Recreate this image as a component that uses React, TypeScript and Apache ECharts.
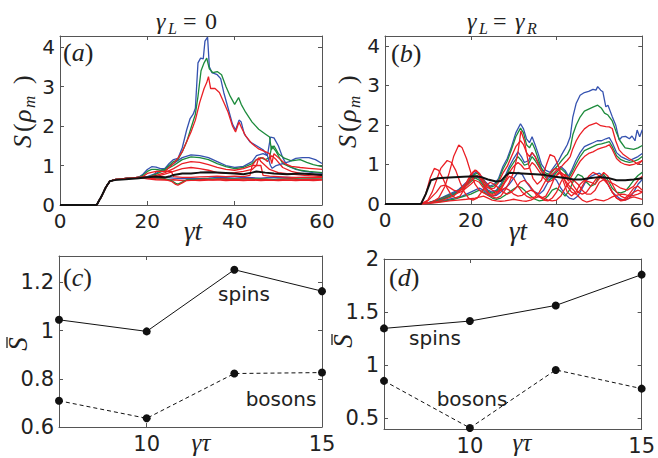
import React, { useEffect, useRef } from "react";
import * as echarts from "echarts";

type Pt = [number, number];

// ---------- panel (a): gamma_L = 0 ----------
const A_RISE: Pt[] = [[0,0],[8.4,0],[9.5,0.22],[10.5,0.45],[11.4,0.6],[12.5,0.64],[14,0.66],[16,0.68],[18,0.7]];
const A_BLUE_HIGH: Pt[] = [[19,0.78],[20,0.9],[21,0.97],[22,0.96],[23,0.92],[24,0.92],[25,1.05],[26,1.15],[27,1.18],[28,1.45],[29,1.9],[29.8,2.19],[30.5,2.3],[31,2.45],[31.6,3.6],[32.2,3.72],[32.8,3.7],[33.2,4.15],[33.8,4.25],[34.2,3.5],[34.8,3.35],[36,3.3],[36.8,3.2],[37.5,2.85],[38.5,2.45],[39.5,2.05],[40.2,1.9],[41,2.15],[41.5,2.1],[42.2,1.8],[43.5,1.6],[45,1.5],[46.5,1.4],[47.5,1.25],[48.2,1.0],[48.6,0.93],[49.5,1.0],[51,1.05],[52.5,1.1],[54,1.18],[55.5,1.2],[57,1.2],[58.5,1.15],[60,1.05]];
const A_GREEN_HIGH: Pt[] = [[19,0.75],[20,0.85],[21,0.9],[22,0.9],[23,0.88],[24,0.9],[25,1.0],[26,1.1],[27,1.15],[28,1.35],[29,1.6],[30,1.95],[31,2.3],[31.6,2.75],[32.3,3.4],[33,3.6],[33.6,3.72],[34.2,3.45],[35,3.35],[36,3.38],[37,3.3],[38,3.0],[39,2.75],[40,2.55],[40.9,2.72],[41.5,2.55],[42.5,2.35],[44,2.1],[45.5,1.92],[47,1.8],[48,1.72],[48.4,1.4],[49,1.5],[50,1.3],[51.5,1.18],[53,1.12],[55,1.15],[56.5,1.08],[58,1.02],[60,0.97]];
const A_RED_HIGH: Pt[] = [[19,0.72],[20,0.8],[22,0.85],[24,0.85],[25,0.95],[26,1.05],[27,1.18],[28,1.35],[29,1.6],[30,1.85],[31,2.15],[32,2.6],[33,2.95],[33.6,3.1],[34,3.25],[34.5,2.95],[35.5,2.95],[36.5,2.85],[37.5,2.6],[38.5,2.35],[39.5,2.0],[40.2,1.85],[41,2.1],[41.6,1.95],[42.5,1.75],[44,1.55],[45.5,1.42],[47,1.35],[48,1.3],[48.5,1.05],[49,1.3],[50,1.2],[51.5,1.05],[53,0.98],[55,0.95],[57,0.93],[60,0.9]];
const A_BLUE_MID: Pt[] = [[20,0.72],[22,0.8],[24,0.92],[26,1.05],[28,1.2],[30,1.27],[32,1.25],[34,1.2],[36,1.1],[38,1.0],[40,0.95],[42,0.98],[44,1.1],[45,1.25],[46.5,1.3],[47.5,1.25],[48.2,1.72],[49,1.7],[50,1.5],[51,1.2],[52,1.0],[54,0.9],[56,0.85],[58,0.82],[60,0.8]];
const A_GREEN_MID: Pt[] = [[20,0.7],[22,0.78],[24,0.88],[26,1.0],[28,1.15],[30,1.22],[32,1.2],[34,1.15],[36,1.05],[38,0.97],[40,0.92],[42,0.95],[44,1.05],[45,1.15],[46,1.2],[47,1.15],[48,1.2],[48.5,1.5],[49.5,1.35],[51,1.05],[53,0.95],[55,0.88],[57,0.85],[60,0.82]];
const A_RED_MID: Pt[] = [[20,0.7],[22,0.75],[24,0.82],[26,0.92],[28,1.05],[30,1.1],[32,1.08],[34,1.02],[36,0.95],[38,0.9],[40,0.88],[42,0.92],[44,1.0],[45,1.15],[46.5,1.2],[47.5,1.1],[48.5,1.25],[49.5,1.15],[51,0.95],[53,0.85],[55,0.8],[57,0.78],[60,0.75]];
const A_RED_MID2: Pt[] = [[20,0.7],[22,0.72],[24,0.78],[26,0.85],[28,0.92],[30,0.95],[32,0.92],[34,0.88],[36,0.82],[38,0.8],[40,0.82],[42,0.85],[44,0.9],[45,1.0],[45.5,1.2],[46,1.1],[47,1.0],[48,0.9],[50,0.82],[53,0.78],[56,0.75],[60,0.72]];
const A_RED_LOW1: Pt[] = [[20,0.68],[22,0.66],[24,0.65],[25.5,0.6],[26.5,0.52],[27,0.5],[28,0.56],[29,0.62],[31,0.63],[33,0.65],[35,0.64],[37,0.66],[39,0.64],[41,0.65],[43,0.66],[45,0.64],[47,0.65],[49,0.63],[51,0.65],[53,0.66],[55,0.64],[57,0.65],[60,0.65]];
const A_GREEN_LOW1: Pt[] = [[20,0.69],[22,0.68],[24,0.67],[25.5,0.62],[26.5,0.55],[27,0.53],[28,0.58],[29,0.64],[31,0.65],[33,0.66],[35,0.66],[37,0.67],[39,0.66],[41,0.66],[43,0.67],[45,0.66],[47,0.66],[49,0.65],[51,0.66],[53,0.67],[55,0.66],[57,0.66],[60,0.66]];
const A_RED_LOW2: Pt[] = [[20,0.66],[22,0.64],[24,0.63],[26,0.64],[28,0.62],[30,0.63],[32,0.62],[34,0.63],[36,0.64],[38,0.62],[40,0.63],[42,0.62],[44,0.63],[46,0.62],[48,0.63],[50,0.62],[52,0.63],[54,0.62],[56,0.63],[58,0.62],[60,0.63]];
const A_BLUE_LOW: Pt[] = [[20,0.7],[22,0.69],[24,0.7],[26,0.68],[28,0.67],[30,0.68],[32,0.67],[34,0.68],[36,0.7],[38,0.69],[40,0.68],[42,0.7],[44,0.69],[46,0.68],[48,0.7],[50,0.69],[52,0.7],[54,0.69],[56,0.7],[58,0.69],[60,0.7]];
const A_RED_LOW3: Pt[] = [[20,0.7],[21.5,0.72],[22,0.85],[24,0.86],[25.5,0.85],[26,0.72],[28,0.7],[30,0.7],[32,0.71],[34,0.72],[36,0.73],[38,0.72],[40,0.73],[42,0.72],[43.5,0.75],[44,1.0],[46,1.0],[46.5,0.75],[48,0.73],[50,0.72],[53,0.7],[56,0.7],[60,0.7]];
const A_BLACK: Pt[] = [[0,0],[8.4,0],[9.5,0.22],[10.5,0.45],[11.4,0.6],[12.5,0.63],[15,0.65],[18,0.68],[20,0.7],[22,0.72],[24,0.7],[25,0.72],[26,0.76],[28,0.8],[30,0.8],[32,0.82],[34,0.83],[36,0.82],[38,0.81],[40,0.8],[42,0.78],[44,0.82],[45,0.85],[47,0.82],[49,0.8],[52,0.78],[55,0.8],[58,0.78],[60,0.76]];

// ---------- panel (b): gamma_L = gamma_R ----------
const B_RED1: Pt[] = [[0,0],[8.4,0],[9.5,0.25],[10.5,0.65],[11.5,0.9],[12.5,0.85],[13.5,0.65],[14.5,0.4],[15.5,0.22],[16.5,0.15],[17.5,0.2],[18.5,0.38],[19.5,0.6],[20.5,0.8],[21.3,0.85],[22,0.75],[23,0.5],[24,0.3],[25,0.18],[26,0.15],[27,0.2],[28,0.35],[29,0.55],[30,0.8],[31,1.3],[31.7,1.85],[32.5,1.6],[33.5,1.0],[34.5,0.65],[35.5,0.5],[36.5,0.6],[37.5,0.95],[38.5,1.25],[39.5,1.2],[40.5,0.95],[41.5,0.6],[42.5,0.3],[43.5,0.2],[44.5,0.3],[45.5,0.5],[46.5,0.6],[48,0.55],[49,0.5],[50,0.65],[51,0.8],[52,0.7],[53,0.5],[54,0.3],[55,0.2],[56,0.15],[57,0.25],[58,0.4],[59,0.45],[60,0.35]];
const B_RED2: Pt[] = [[0,0],[8.4,0],[10,0.1],[11,0.3],[12,0.6],[13,0.9],[14.5,1.1],[15.5,1.05],[16.5,0.85],[17.5,0.55],[18.5,0.3],[19.5,0.15],[20.5,0.1],[21.5,0.15],[22.5,0.3],[23.5,0.45],[24.5,0.55],[25.5,0.5],[26.5,0.4],[27.5,0.3],[28.5,0.25],[29.5,0.3],[30.5,0.4],[31.5,0.55],[32.5,0.6],[33.5,0.5],[34.5,0.35],[35.5,0.2],[36.5,0.15],[37.5,0.2],[38.5,0.4],[39.5,0.65],[40.5,0.8],[41.5,0.7],[42.5,0.45],[43.5,0.3],[44.5,0.25],[45.5,0.35],[46.5,0.55],[47.5,0.7],[48.5,0.8],[49.5,0.75],[50.5,0.65],[51.5,0.6],[52.5,0.55],[53.5,0.5],[55,0.4],[56.5,0.35],[58,0.45],[59,0.6],[60,0.7]];
const B_RED3: Pt[] = [[0,0],[8.4,0],[11,0.05],[12.5,0.15],[14,0.45],[15,0.8],[16,1.2],[17.2,1.49],[18,1.42],[19,1.15],[20,0.8],[21,0.5],[22,0.35],[23,0.28],[24,0.22],[25,0.2],[26,0.25],[27,0.35],[28,0.55],[29,0.7],[30,0.65],[31,0.45],[32,0.3],[33,0.2],[34,0.15],[35,0.18],[36,0.3],[37,0.5],[38,0.7],[39,0.85],[40,0.9],[41,0.8],[42,0.6],[43,0.45],[44,0.35],[45,0.2],[46,0.1],[47,0.05],[48,0.08],[49,0.12],[50,0.1],[51,0.08],[52,0.12],[53,0.18],[54,0.22],[55,0.25],[56,0.24],[57,0.2],[58,0.22],[59,0.25],[60,0.3]];
const B_RED4: Pt[] = [[0,0],[8.4,0],[10,0.08],[12,0.3],[13,0.45],[14,0.48],[15,0.42],[16,0.35],[17,0.32],[18,0.4],[19,0.55],[20,0.75],[21,0.86],[22,0.78],[23,0.6],[24,0.45],[25,0.35],[26,0.3],[27,0.35],[28,0.4],[29,0.35],[30,0.25],[31,0.2],[32,0.22],[33,0.3],[34,0.35],[35,0.3],[36,0.2],[37,0.1],[38,0.08],[39,0.15],[40,0.3],[41,0.55],[42,0.75],[43,0.65],[44,0.45],[45,0.3],[46,0.25],[47,0.3],[48,0.45],[49,0.6],[50,0.72],[51,0.65],[52,0.5],[53,0.3],[54,0.15],[55,0.08],[56,0.1],[57,0.15],[58,0.18],[59,0.15],[60,0.12]];
const B_BLUE1: Pt[] = [[0,0],[8.4,0],[10,0.02],[12,0.08],[14,0.15],[16,0.25],[18,0.45],[19.5,0.6],[20.5,0.75],[21.5,0.82],[22.5,0.7],[23.5,0.55],[24.5,0.45],[25.5,0.5],[26.5,0.65],[27.5,0.95],[28.5,1.15],[29.5,1.45],[30.5,1.8],[31.6,2.03],[32.3,1.9],[33,1.65],[33.7,1.55],[34.3,1.7],[35,1.5],[35.8,1.25],[36.5,1.0],[37.5,0.85],[38.5,0.8],[39.5,0.95],[40.5,1.1],[41.2,1.25],[42,1.4],[42.5,1.5],[43.2,1.7],[43.8,2.2],[44.6,2.55],[45.5,2.75],[46.5,2.82],[47.5,2.85],[48.5,2.9],[49.2,2.88],[49.6,2.97],[50.3,2.88],[50.8,2.84],[51.5,2.46],[52,2.5],[53,2.21],[53.8,2.0],[54.6,1.62],[55.3,1.7],[56.1,1.71],[57,1.65],[57.6,1.72],[58.3,1.6],[58.8,1.87],[59.4,1.7],[60,1.88]];
const B_GREEN1: Pt[] = [[0,0],[8.4,0],[10,0.02],[12,0.07],[14,0.14],[16,0.23],[18,0.42],[19.5,0.57],[20.5,0.72],[21.5,0.78],[22.5,0.66],[23.5,0.5],[24.5,0.42],[25.5,0.46],[26.5,0.6],[27.5,0.88],[28.5,1.08],[29.5,1.38],[30.5,1.7],[31.6,1.92],[32.3,1.8],[33,1.5],[33.7,1.42],[34.3,1.55],[35,1.38],[35.8,1.12],[36.5,0.9],[37.5,0.78],[38.5,0.75],[39.5,0.88],[40.5,1.0],[41.2,1.1],[42,1.2],[42.5,1.25],[43.2,1.4],[43.8,1.75],[44.6,2.0],[45.5,2.2],[46.5,2.35],[47.5,2.4],[48.5,2.45],[49.6,2.5],[50.5,2.42],[51.2,2.3],[52,2.25],[53,2.1],[54,1.8],[54.8,1.6],[56,1.42],[57,1.4],[58,1.38],[59,1.42],[60,1.48]];
const B_RED_TOP: Pt[] = [[0,0],[8.4,0],[10,0.02],[12,0.06],[14,0.12],[16,0.2],[18,0.38],[19.5,0.52],[20.5,0.66],[21.5,0.72],[22.5,0.6],[23.5,0.45],[24.5,0.38],[25.5,0.4],[26.5,0.55],[27.5,0.78],[28.5,0.95],[29.5,1.2],[30.5,1.45],[31.6,1.6],[32.3,1.5],[33,1.3],[33.7,1.2],[34.3,1.3],[35,1.2],[35.8,1.0],[36.5,0.82],[37.5,0.72],[38.5,0.7],[39.5,0.8],[40.5,0.9],[41.2,0.95],[42,1.05],[42.5,1.1],[43.2,1.2],[43.8,1.4],[44.6,1.6],[45.4,1.75],[46.5,1.9],[47.5,1.98],[48.5,2.02],[49.3,2.05],[50.3,1.98],[51.5,1.96],[52.3,1.95],[53,1.91],[53.8,1.6],[54.6,1.37],[55.6,1.25],[56.9,1.15],[58,1.08],[59,1.0],[60,1.1]];
const B_BLUE2: Pt[] = [[0,0],[8.4,0],[10,0.03],[12,0.1],[14,0.2],[16,0.3],[18,0.4],[20,0.6],[21,0.7],[22,0.65],[23,0.5],[24,0.35],[25,0.3],[26,0.35],[27,0.5],[28,0.7],[29,0.95],[30,1.15],[31,1.32],[31.8,1.2],[32.5,1.05],[33.5,1.1],[34.3,1.3],[35,1.2],[36,1.0],[37,0.8],[38,0.65],[39,0.7],[40,0.85],[41,0.95],[42,0.85],[42.8,0.7],[43.5,0.85],[44.5,1.1],[45.5,1.3],[46.5,1.45],[47.5,1.5],[48.5,1.55],[49.5,1.6],[50.5,1.6],[51.5,1.65],[52.3,1.68],[53,1.55],[54,1.3],[55,1.2],[56,1.15],[57,1.1],[58,1.15],[59,1.2],[60,1.28]];
const B_GREEN2: Pt[] = [[0,0],[8.4,0],[10,0.03],[12,0.09],[14,0.18],[16,0.27],[18,0.37],[20,0.56],[21,0.66],[22,0.6],[23,0.45],[24,0.32],[25,0.27],[26,0.32],[27,0.45],[28,0.65],[29,0.88],[30,1.05],[31,1.2],[31.8,1.1],[32.5,0.98],[33.5,1.02],[34.3,1.2],[35,1.1],[36,0.92],[37,0.74],[38,0.6],[39,0.65],[40,0.8],[41,0.9],[42,0.8],[42.8,0.65],[43.5,0.78],[44.5,1.0],[45.5,1.2],[46.5,1.35],[47.5,1.4],[48.5,1.45],[49.5,1.5],[50.5,1.52],[51.5,1.55],[52.3,1.58],[53,1.45],[54,1.22],[55,1.12],[56,1.08],[57,1.05],[58,1.08],[59,1.12],[60,1.2]];
const B_RED5: Pt[] = [[0,0],[8.4,0],[10,0.02],[12,0.08],[14,0.16],[16,0.24],[18,0.32],[20,0.5],[21,0.6],[22,0.55],[23,0.4],[24,0.28],[25,0.24],[26,0.28],[27,0.4],[28,0.58],[29,0.8],[30,0.95],[31,1.05],[31.8,0.98],[32.5,0.88],[33.5,0.9],[34.3,1.05],[35,0.98],[36,0.82],[37,0.66],[38,0.55],[39,0.6],[40,0.72],[41,0.8],[42,0.72],[42.8,0.58],[43.5,0.7],[44.5,0.9],[45.5,1.08],[46.5,1.2],[47.5,1.28],[48.5,1.32],[49.5,1.38],[50.5,1.42],[51.5,1.45],[52.3,1.5],[53,1.38],[54,1.15],[55,1.05],[56,1.0],[57,0.98],[58,1.0],[59,1.05],[60,1.1]];
const B_BLUE3: Pt[] = [[0,0],[8.4,0],[10,0.02],[12,0.06],[14,0.1],[16,0.15],[18,0.2],[20,0.3],[22,0.4],[23,0.35],[24,0.25],[25,0.2],[26,0.22],[27,0.3],[28,0.4],[29,0.5],[30,0.65],[31,0.8],[32,0.75],[33,0.55],[34,0.4],[35,0.3],[36,0.25],[37,0.35],[38,0.55],[39,0.7],[40,0.6],[41,0.4],[42,0.25],[43,0.15],[44,0.12],[45,0.2],[46,0.4],[47,0.6],[48,0.7],[49,0.75],[50,0.78],[51,0.7],[52,0.5],[53,0.3],[54,0.2],[55,0.12],[56,0.1],[57,0.15],[58,0.3],[59,0.5],[60,0.62]];
const B_GREEN3: Pt[] = [[0,0],[8.4,0],[10,0.02],[12,0.05],[14,0.08],[16,0.12],[18,0.18],[20,0.25],[22,0.35],[23,0.3],[24,0.22],[25,0.15],[26,0.12],[27,0.15],[28,0.22],[29,0.3],[30,0.38],[31,0.45],[32,0.4],[33,0.3],[34,0.2],[35,0.12],[36,0.08],[37,0.1],[38,0.2],[39,0.35],[40,0.4],[41,0.32],[42,0.2],[43,0.35],[44,0.6],[45,0.75],[46,0.7],[47,0.55],[48,0.45],[49,0.5],[50,0.72],[51,0.75],[52,0.6],[53,0.4],[54,0.3],[55,0.28],[56,0.32],[57,0.45],[58,0.6],[59,0.72],[60,0.8]];
const B_RED6: Pt[] = [[0,0],[8.4,0],[11,0.02],[13,0.05],[15,0.08],[17,0.1],[19,0.12],[21,0.15],[23,0.2],[24,0.15],[25,0.1],[26,0.08],[27,0.07],[28,0.08],[29,0.1],[30,0.12],[31,0.1],[32,0.08],[33,0.07],[34,0.1],[35,0.15],[36,0.2],[37,0.15],[38,0.1],[39,0.08],[40,0.1],[41,0.2],[42,0.4],[43,0.55],[44,0.6],[45,0.5],[46,0.35],[47,0.25],[48,0.25],[49,0.35],[50,0.55],[51,0.62],[52,0.5],[53,0.3],[54,0.15],[55,0.1],[56,0.12],[57,0.2],[58,0.3],[59,0.35],[60,0.3]];
const B_BLACK: Pt[] = [[0,0],[8.4,0],[9.5,0.25],[10.7,0.6],[12.2,0.65],[15,0.67],[18.3,0.69],[21,0.7],[22.5,0.68],[24,0.62],[25.9,0.57],[27,0.58],[28,0.7],[29,0.79],[31,0.78],[34,0.76],[37,0.74],[39.7,0.69],[42,0.66],[44,0.62],[45.8,0.62],[47.5,0.65],[50,0.68],[52,0.66],[54,0.6],[56,0.6],[58,0.62],[60,0.65]];

// ---------- panels (c), (d) ----------
const TAU = [7.5, 10, 12.5, 15];
const SPINS_C = [1.045, 0.997, 1.253, 1.164];
const BOSONS_C = [0.709, 0.636, 0.822, 0.826];
const SPINS_D = [1.347, 1.416, 1.563, 1.853];
const BOSONS_D = [0.853, 0.41, 0.956, 0.78];

// ---------- tick labels ----------
const TICKS_T = [0, 20, 40, 60];
const TICKS_S = [0, 1, 2, 3, 4];
const TICKS_TAU = [10, 15];
const TICKS_C = [0.6, 0.8, 1, 1.2];
const TICKS_D = [0.5, 1, 1.5, 2];

const BLUE = "#3552b0";
const GREEN = "#1d8b3c";
const RED = "#ea1f25";
const AX = "#555";
const TXT = "#222";
const SANS = "DejaVu Sans";
const SERIF = "'Liberation Serif', 'DejaVu Serif', serif";

function xPair(grid: number, min: number, max: number, ticks: number[], fs: number) {
  const common = {
    type: "value", gridIndex: grid, min, max,
    axisLine: { show: true, onZero: false, lineStyle: { color: AX, width: 1 } },
    axisTick: { show: true, inside: true, length: 4, customValues: ticks, lineStyle: { color: AX } },
    splitLine: { show: false },
  };
  return [
    { ...common, position: "bottom", axisLabel: { show: true, customValues: ticks, margin: 6, color: TXT, fontFamily: SANS, fontSize: fs, hideOverlap: false } },
    { ...common, position: "top", axisLabel: { show: false } },
  ];
}
function yPair(grid: number, min: number, max: number, ticks: number[], fs: number) {
  const common = {
    type: "value", gridIndex: grid, min, max,
    axisLine: { show: true, onZero: false, lineStyle: { color: AX, width: 1 } },
    axisTick: { show: true, inside: true, length: 4, customValues: ticks, lineStyle: { color: AX } },
    splitLine: { show: false },
  };
  return [
    { ...common, position: "left", axisLabel: { show: true, customValues: ticks, margin: 5, color: TXT, fontFamily: SANS, fontSize: fs, hideOverlap: false } },
    { ...common, position: "right", axisLabel: { show: false } },
  ];
}

function ln(data: Pt[], color: string, grid: number, width = 1.3, z = 2) {
  return {
    type: "line", xAxisIndex: 2 * grid, yAxisIndex: 2 * grid, data,
    symbol: "none", showSymbol: false, silent: true, clip: true,
    lineStyle: { color, width }, z,
  };
}
function dots(xs: number[], ys: number[], grid: number, dashed: boolean) {
  return {
    type: "line", xAxisIndex: 2 * grid, yAxisIndex: 2 * grid,
    data: xs.map((x, i) => [x, ys[i]]),
    symbol: "circle", symbolSize: 8, showSymbol: true, silent: true, clip: false,
    itemStyle: { color: "#111" },
    lineStyle: { color: "#111", width: 1, type: dashed ? [4, 3] : "solid" },
  };
}

function t(text: string, x: number, y: number, size: number, italic: boolean, family = SERIF, align = "left") {
  return {
    type: "text", x, y, silent: true,
    style: { text, fontSize: size, fontFamily: family, fontStyle: italic ? "italic" : "normal", fill: TXT, align, verticalAlign: "middle" },
  };
}
function panelLetter(letter: string, x: number, y: number) {
  return {
    type: "text", x, y, silent: true,
    style: {
      text: `{p|(}{i|${letter}}{p|)}`, verticalAlign: "middle", align: "left",
      rich: {
        p: { fontFamily: SERIF, fontSize: 26, fill: TXT },
        i: { fontFamily: SERIF, fontSize: 26, fontStyle: "italic", fill: TXT },
      },
    },
  };
}
function sRho(x: number, y: number) {
  return {
    type: "group", x, y, rotation: Math.PI / 2, silent: true,
    children: [
      t("S", 0, 0, 26, true),
      t("(", 16, 0, 26, false),
      t("ρ", 26, 0, 26, true),
      t("m", 40, 7, 17, true),
      t(")", 64, 0, 26, false),
    ],
  };
}
function sBar(x: number, y: number) {
  return {
    type: "group", x, y, rotation: Math.PI / 2, silent: true,
    children: [
      t("S", 0, 0, 27, true, SERIF, "center"),
      { type: "line", shape: { x1: -4, y1: -11, x2: 7, y2: -11 }, style: { stroke: TXT, lineWidth: 1.3 } },
    ],
  };
}

function buildOption() {
  const grid = [
    { left: 60, top: 36, width: 262, height: 169 },
    { left: 385, top: 36, width: 262, height: 168 },
    { left: 59, top: 256, width: 263, height: 171 },
    { left: 384, top: 259, width: 263, height: 170 },
  ];
  const xAxis = [
    ...xPair(0, 0, 60, TICKS_T, 20),
    ...xPair(1, 0, 60, TICKS_T, 20),
    ...xPair(2, 7.5, 15, TICKS_TAU, 21),
    ...xPair(3, 7.5, 15, TICKS_TAU, 21),
  ];
  const yAxis = [
    ...yPair(0, 0, 4.28, TICKS_S, 20),
    ...yPair(1, 0, 4.25, TICKS_S, 20),
    ...yPair(2, 0.6, 1.31, TICKS_C, 21),
    ...yPair(3, 0.4, 2, TICKS_D, 21),
  ];
  const withRise = (tail: Pt[]) => A_RISE.concat(tail);
  const series = [
    ln(withRise(A_RED_LOW2), RED, 0),
    ln(withRise(A_BLUE_LOW), BLUE, 0),
    ln(withRise(A_GREEN_LOW1), GREEN, 0),
    ln(withRise(A_RED_LOW1), RED, 0),
    ln(withRise(A_RED_LOW3), RED, 0),
    ln(withRise(A_BLUE_MID), BLUE, 0),
    ln(withRise(A_GREEN_MID), GREEN, 0),
    ln(withRise(A_RED_MID), RED, 0),
    ln(withRise(A_RED_MID2), RED, 0),
    ln(withRise(A_BLUE_HIGH), BLUE, 0),
    ln(withRise(A_GREEN_HIGH), GREEN, 0),
    ln(withRise(A_RED_HIGH), RED, 0),
    ln(A_BLACK, "#111", 0, 2, 3),

    ln(B_BLUE3, BLUE, 1),
    ln(B_GREEN3, GREEN, 1),
    ln(B_RED6, RED, 1),
    ln(B_BLUE2, BLUE, 1),
    ln(B_GREEN2, GREEN, 1),
    ln(B_RED5, RED, 1),
    ln(B_BLUE1, BLUE, 1),
    ln(B_GREEN1, GREEN, 1),
    ln(B_RED_TOP, RED, 1),
    ln(B_RED4, RED, 1),
    ln(B_RED3, RED, 1),
    ln(B_RED2, RED, 1),
    ln(B_RED1, RED, 1),
    ln(B_BLACK, "#111", 1, 2, 3),

    dots(TAU, SPINS_C, 2, false),
    dots(TAU, BOSONS_C, 2, true),
    dots(TAU, SPINS_D, 3, false),
    dots(TAU, BOSONS_D, 3, true),
  ];
  const graphic = [
    // titles
    t("γ", 156, 21, 24, true), t("L", 168, 28, 16, true), t("=", 183, 21, 24, false), t("0", 205, 21, 24, false),
    t("γ", 467, 21, 24, true), t("L", 479, 28, 16, true), t("=", 493, 21, 24, false),
    t("γ", 515, 21, 24, true), t("R", 527, 28, 16, true),
    // panel letters
    panelLetter("a", 63, 52), panelLetter("b", 391, 53), panelLetter("c", 63, 277), panelLetter("d", 389, 277),
    // y labels
    sRho(22, 148), sRho(347, 148),
    sBar(18, 344), sBar(343, 341),
    // x labels
    t("γt", 193, 231, 27, true, SERIF, "center"), t("γt", 518, 231, 27, true, SERIF, "center"),
    t("γτ", 201, 442, 25, true, SERIF, "center"), t("γτ", 522, 442, 25, true, SERIF, "center"),
    // annotations
    t("spins", 244, 294, 20, false, SANS, "center"), t("bosons", 281, 399, 20, false, SANS, "center"),
    t("spins", 435, 338, 20, false, SANS, "center"), t("bosons", 472, 399, 20, false, SANS, "center"),
  ];
  return { animation: false, backgroundColor: "#fff", grid, xAxis, yAxis, series, graphic };
}

export default function App() {
  const ref = useRef<HTMLDivElement>(null);
  useEffect(() => {
    const chart = echarts.init(ref.current!, null, { renderer: "svg" });
    chart.setOption(buildOption() as any);
    return () => chart.dispose();
  }, []);
  return <div ref={ref} style={{ position: "fixed", left: 0, top: 0, width: 658, height: 458, background: "#fff" }} />;
}
